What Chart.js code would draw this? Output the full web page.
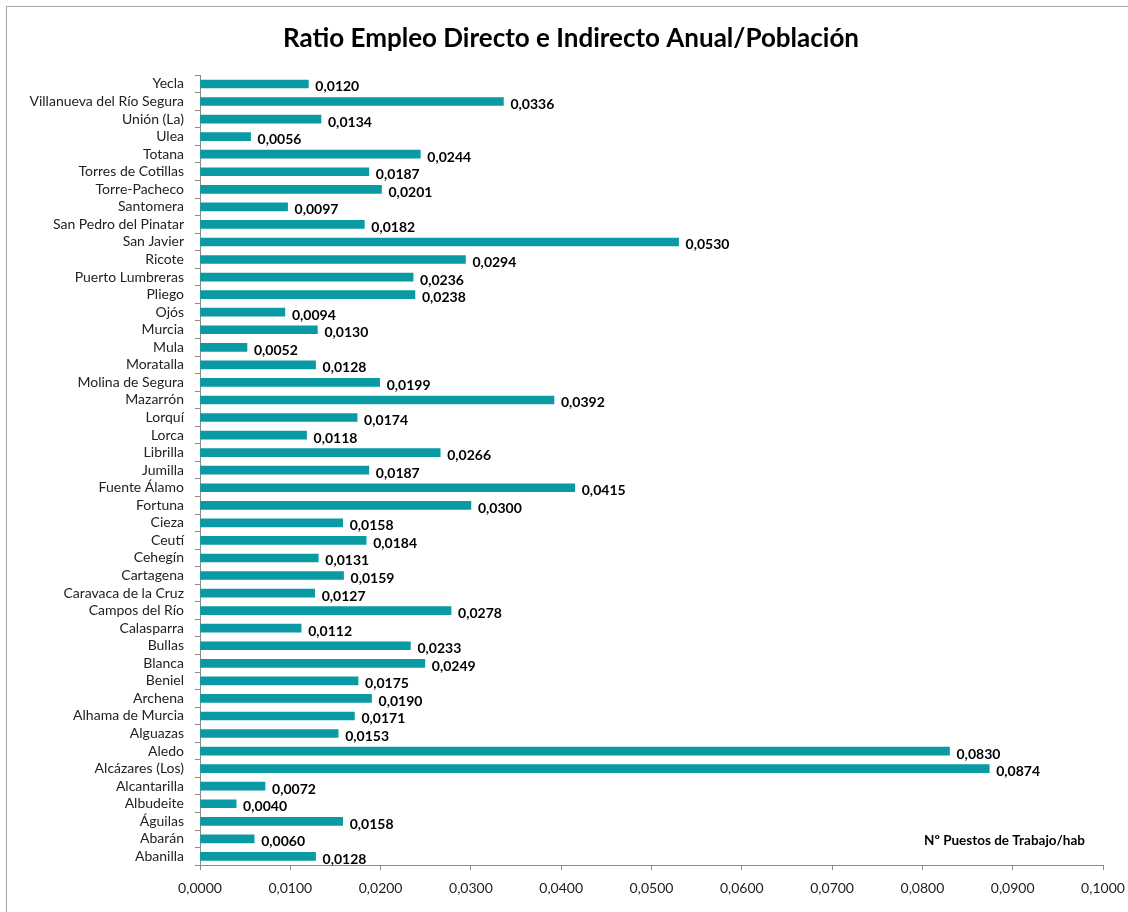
<!DOCTYPE html>
<html>
<head>
<meta charset="utf-8">
<script src="https://cdn.jsdelivr.net/npm/chart.js@4.4.1/dist/chart.umd.min.js"></script>
<style>
  html, body { margin: 0; padding: 0; background: #fff; }
  #wrap { width: 1128px; height: 912px; position: relative; }
</style>
</head>
<body>
<div id="wrap"><canvas id="ratioChart" width="1128" height="912"></canvas></div>
<script>
// municipios, listed top to bottom
var municipios = [
  "Yecla", "Villanueva del Río Segura", "Unión (La)", "Ulea", "Totana",
  "Torres de Cotillas", "Torre-Pacheco", "Santomera", "San Pedro del Pinatar",
  "San Javier", "Ricote", "Puerto Lumbreras", "Pliego", "Ojós", "Murcia",
  "Mula", "Moratalla", "Molina de Segura", "Mazarrón", "Lorquí", "Lorca",
  "Librilla", "Jumilla", "Fuente Álamo", "Fortuna", "Cieza", "Ceutí",
  "Cehegín", "Cartagena", "Caravaca de la Cruz", "Campos del Río",
  "Calasparra", "Bullas", "Blanca", "Beniel", "Archena", "Alhama de Murcia",
  "Alguazas", "Aledo", "Alcázares (Los)", "Alcantarilla", "Albudeite",
  "Águilas", "Abarán", "Abanilla"
];

// puestos de trabajo por habitante
var ratios = [
  0.0120, 0.0336, 0.0134, 0.0056, 0.0244,
  0.0187, 0.0201, 0.0097, 0.0182,
  0.0530, 0.0294, 0.0236, 0.0238, 0.0094, 0.0130,
  0.0052, 0.0128, 0.0199, 0.0392, 0.0174, 0.0118,
  0.0266, 0.0187, 0.0415, 0.0300, 0.0158, 0.0184,
  0.0131, 0.0159, 0.0127, 0.0278,
  0.0112, 0.0233, 0.0249, 0.0175, 0.0190, 0.0171,
  0.0153, 0.0830, 0.0874, 0.0072, 0.0040,
  0.0158, 0.0060, 0.0128
];

var xMin = 0;
var xMax = 0.1;
var xStep = 0.01;

var FONT = "Lato, 'Open Sans', sans-serif";

function fmt(v) {
  return v.toFixed(4).replace(".", ",");
}

// outer frame + value labels + axis caption
var extras = {
  id: "extras",
  beforeDraw: function (chart) {
    var ctx = chart.ctx;
    ctx.save();
    ctx.fillStyle = "#fff";
    ctx.fillRect(0, 0, chart.width, chart.height);
    ctx.strokeStyle = "#a6a6a6";
    ctx.lineWidth = 1;
    ctx.strokeRect(6.5, 6.5, chart.width, chart.height);
    ctx.restore();
  },
  afterDatasetsDraw: function (chart) {
    var ctx = chart.ctx;
    var meta = chart.getDatasetMeta(0);
    ctx.save();
    ctx.font = "bold 14px " + FONT;
    ctx.fillStyle = "#000";
    ctx.textAlign = "left";
    ctx.textBaseline = "middle";
    meta.data.forEach(function (bar, i) {
      ctx.fillText(fmt(ratios[i]), bar.x + 7, bar.y + 3);
    });
    var area = chart.chartArea;
    ctx.textAlign = "right";
    ctx.font = "bold 13.5px " + FONT;
    ctx.fillText("Nº Puestos de Trabajo/hab", area.right - 18, area.bottom - 25);
    ctx.restore();
  }
};

var ctx = document.getElementById("ratioChart").getContext("2d");
new Chart(ctx, {
  type: "bar",
  data: {
    labels: municipios,
    datasets: [
      {
        data: ratios,
        backgroundColor: "#0a9aa3",
        barThickness: 8
      }
    ]
  },
  options: {
    indexAxis: "y",
    responsive: false,
    animation: false,
    layout: { padding: { left: 14, right: 0, top: 0, bottom: 5 } },
    plugins: {
      legend: { display: false },
      tooltip: { enabled: false },
      title: {
        display: true,
        text: "Ratio Empleo Directo e Indirecto Anual/Población",
        color: "#000",
        font: { family: FONT, size: 26, weight: "bold" },
        padding: { top: 23, bottom: 21 }
      }
    },
    scales: {
      x: {
        min: xMin,
        max: xMax,
        afterFit: function (scale) { scale.paddingRight = 25; },
        ticks: {
          stepSize: xStep,
          color: "#222",
          font: { family: FONT, size: 14 },
          padding: 10,
          callback: function (v) { return fmt(v); }
        },
        grid: {
          drawOnChartArea: false,
          drawTicks: true,
          tickLength: 5,
          color: "#8c8c8c"
        },
        border: { color: "#8c8c8c" }
      },
      y: {
        afterFit: function (scale) { scale.width = 186; },
        ticks: {
          color: "#222",
          font: { family: FONT, size: 14 },
          padding: 11,
          autoSkip: false
        },
        grid: {
          drawOnChartArea: false,
          drawTicks: true,
          tickLength: 5,
          color: "#8c8c8c"
        },
        border: { color: "#8c8c8c" }
      }
    }
  },
  plugins: [extras]
});
</script>
</body>
</html>
